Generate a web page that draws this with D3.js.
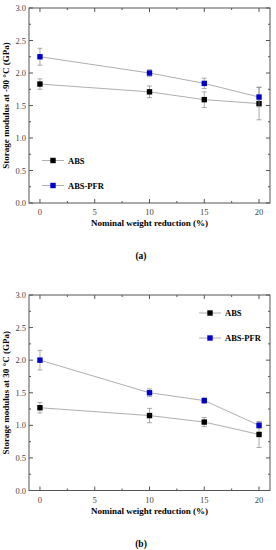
<!DOCTYPE html>
<html lang="en">
<head>
<meta charset="UTF-8">
<script src="https://d3js.org/d3.v7.min.js"></script>
<style>
	body { margin: 0; background: #fff; }
	svg { display: block; }
</style>
</head>
<body>
<div id="chart"></div>
<script>
// nominal weight reduction (%)
const reduction = [0, 10, 15, 20];
const xTicks = [0, 5, 10, 15, 20];
const yTicks = [0, 0.5, 1.0, 1.5, 2.0, 2.5, 3.0];

// panel (a): storage modulus at -90 C
const absA = [1.83, 1.71, 1.59, 1.53];
const absAErr = [0.08, 0.09, 0.12, 0.25];
const pfrA = [2.25, 2.00, 1.84, 1.63];
const pfrAErr = [0.13, 0.05, 0.08, 0.15];

// panel (b): storage modulus at 30 C
const absB = [1.27, 1.15, 1.05, 0.86];
const absBErr = [0.08, 0.11, 0.07, 0.20];
const pfrB = [2.00, 1.50, 1.38, 1.00];
const pfrBErr = [0.15, 0.06, 0.04, 0.05];

const W = 276, H = 550;
const serif = "'Liberation Serif', 'DejaVu Serif', serif";

const svg = d3.select("#chart").append("svg")
	.attr("width", W)
	.attr("height", H);

function panel(top, bottom, abs, absErr, pfr, pfrErr, yTitle, tag, legendPos) {
	const x = d3.scaleLinear([-1, 21], [29, 270]);
	const y = d3.scaleLinear([0, 3], [bottom, top]);
	const g = svg.append("g");

	// frame
	g.append("rect")
		.attr("x", x(-1)).attr("y", y(3))
		.attr("width", x(21) - x(-1)).attr("height", y(0) - y(3))
		.attr("fill", "none").attr("stroke", "#555").attr("stroke-width", 1);

	// inward ticks on all four sides
	const tickColor = "#555";
	const xMinor = d3.range(0, 20.01, 2.5);
	const yMinor = d3.range(0, 3.01, 0.25);
	xMinor.forEach(v => {
		const len = v % 5 === 0 ? 4 : 2;
		g.append("line").attr("x1", x(v)).attr("x2", x(v))
			.attr("y1", y(0)).attr("y2", y(0) - len).attr("stroke", tickColor);
		g.append("line").attr("x1", x(v)).attr("x2", x(v))
			.attr("y1", y(3)).attr("y2", y(3) + len).attr("stroke", tickColor);
	});
	yMinor.forEach(v => {
		const len = Math.abs(v * 2 - Math.round(v * 2)) < 1e-6 ? 4 : 2;
		g.append("line").attr("y1", y(v)).attr("y2", y(v))
			.attr("x1", x(-1)).attr("x2", x(-1) + len).attr("stroke", tickColor);
		g.append("line").attr("y1", y(v)).attr("y2", y(v))
			.attr("x1", x(21)).attr("x2", x(21) - len).attr("stroke", tickColor);
	});

	// tick labels
	g.selectAll(".xl").data(xTicks).join("text")
		.attr("x", d => x(d)).attr("y", y(0) + 12)
		.attr("text-anchor", "middle")
		.attr("font-family", serif).attr("font-size", 8.5).attr("fill", "#444")
		.text(d => d);
	g.selectAll(".yl").data(yTicks).join("text")
		.attr("x", x(-1) - 3).attr("y", d => y(d) + 3)
		.attr("text-anchor", "end")
		.attr("font-family", serif).attr("font-size", 8.5).attr("fill", "#444")
		.text(d => d.toFixed(1));

	// axis titles
	g.append("text")
		.attr("x", (x(-1) + x(21)) / 2).attr("y", y(0) + 23)
		.attr("text-anchor", "middle")
		.attr("font-family", serif).attr("font-size", 9).attr("font-weight", "bold")
		.text("Nominal weight reduction (%)");
	g.append("text")
		.attr("transform", "translate(9," + ((y(0) + y(3)) / 2) + ") rotate(-90)")
		.attr("text-anchor", "middle")
		.attr("font-family", serif).attr("font-size", 9).attr("font-weight", "bold")
		.text(yTitle);
	g.append("text")
		.attr("x", 141).attr("y", y(0) + 56)
		.attr("text-anchor", "middle")
		.attr("font-family", serif).attr("font-size", 9.5).attr("font-weight", "bold")
		.text(tag);

	const series = [
		{ name: "ABS", vals: abs, err: absErr, color: "#000" },
		{ name: "ABS-PFR", vals: pfr, err: pfrErr, color: "#0000cc" }
	];
	const line = d3.line().x((d, i) => x(reduction[i])).y(d => y(d));

	series.forEach(s => {
		g.append("path").attr("d", line(s.vals))
			.attr("fill", "none").attr("stroke", "#999").attr("stroke-width", 0.8);
	});
	series.forEach(s => {
		s.vals.forEach((v, i) => {
			const cx = x(reduction[i]);
			const lo = y(v - s.err[i]), hi = y(v + s.err[i]);
			g.append("line").attr("x1", cx).attr("x2", cx).attr("y1", lo).attr("y2", hi)
				.attr("stroke", "#888").attr("stroke-width", 0.7);
			[lo, hi].forEach(yy => g.append("line")
				.attr("x1", cx - 2.5).attr("x2", cx + 2.5).attr("y1", yy).attr("y2", yy)
				.attr("stroke", "#888").attr("stroke-width", 0.7));
		});
		g.selectAll(null).data(s.vals).join("rect")
			.attr("x", (d, i) => x(reduction[i]) - 2.7)
			.attr("y", d => y(d) - 2.7)
			.attr("width", 5.4).attr("height", 5.4)
			.attr("fill", s.color);
	});

	// legend
	series.forEach((s, k) => {
		const ly = legendPos.y + k * 25;
		const lx = legendPos.x;
		g.append("line").attr("x1", lx - 11).attr("x2", lx + 11).attr("y1", ly).attr("y2", ly)
			.attr("stroke", "#999").attr("stroke-width", 0.8);
		g.append("rect").attr("x", lx - 2.7).attr("y", ly - 2.7)
			.attr("width", 5.4).attr("height", 5.4).attr("fill", s.color);
		g.append("text").attr("x", lx + 15).attr("y", ly + 3)
			.attr("font-family", serif).attr("font-size", 8.5).attr("font-weight", "bold")
			.text(s.name);
	});
}

panel(8, 203, absA, absAErr, pfrA, pfrAErr,
	"Storage modulus at -90 °C (GPa)", "(a)", { x: 53, y: 160.5 });
panel(295, 490.5, absB, absBErr, pfrB, pfrBErr,
	"Storage modulus at 30 °C (GPa)", "(b)", { x: 210, y: 313 });
</script>
</body>
</html>
